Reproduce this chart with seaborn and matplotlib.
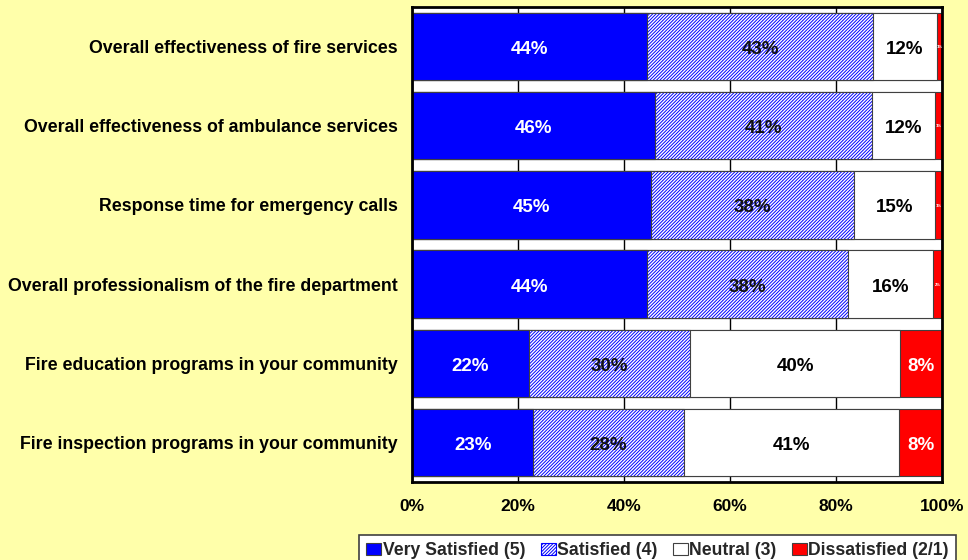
import matplotlib
matplotlib.use("Agg")
import matplotlib.pyplot as plt
from matplotlib.patches import Patch
import numpy as np
import pandas as pd
import seaborn as sns

# Survey items (top to bottom) and share of responses per rating
items = [
    "Overall effectiveness of fire services",
    "Overall effectiveness of ambulance services",
    "Response time for emergency calls",
    "Overall professionalism of the fire department",
    "Fire education programs in your community",
    "Fire inspection programs in your community",
]
very_satisfied = [44.4, 45.8, 45.1, 44.3, 22.1, 22.9]
satisfied = [42.6, 41.0, 38.3, 38.0, 30.4, 28.4]
neutral = [12.0, 11.9, 15.2, 16.0, 39.6, 40.6]
dissatisfied = [1.0, 1.3, 1.4, 1.7, 7.9, 8.1]

series_names = ["Very Satisfied (5)", "Satisfied (4)", "Neutral (3)", "Dissatisfied (2/1)"]
x_ticks = [0, 20, 40, 60, 80, 100]
x_tick_labels = ["0%", "20%", "40%", "60%", "80%", "100%"]

BG = "#FFFFAA"
BLUE = "#0000FF"
RED = "#FF0000"
EDGE = "#404040"
HATCH = "//////////"

sns.set_theme(style="white")
plt.rcParams["font.family"] = ["Liberation Sans", "DejaVu Sans"]
plt.rcParams["font.weight"] = "bold"
plt.rcParams["hatch.linewidth"] = 0.7

df = pd.DataFrame({
    "item": items,
    "very": very_satisfied,
    "sat": satisfied,
    "neu": neutral,
    "dis": dissatisfied,
})
df["c1"] = df["very"]
df["c2"] = df["c1"] + df["sat"]
df["c3"] = df["c2"] + df["neu"]
df["c4"] = df["c3"] + df["dis"]

fig = plt.figure(figsize=(9.68, 5.6), dpi=100, facecolor=BG)
ax = fig.add_axes([412 / 968, 78 / 560, 530 / 968, 475 / 560])
ax.set_facecolor("white")

bar_w = 0.85
common = dict(data=df, y="item", orient="h", width=bar_w, ax=ax,
              order=items, saturation=1)

# Stack by overdrawing cumulative totals from the outermost segment inward
sns.barplot(x="c4", color=RED, edgecolor=EDGE, linewidth=0.8, **common)
sns.barplot(x="c3", color="white", edgecolor=EDGE, linewidth=0.8, **common)
sns.barplot(x="c2", color="white", edgecolor=BLUE, linewidth=0.0, hatch=HATCH, **common)
sns.barplot(x="c2", fill=False, edgecolor=EDGE, linewidth=0.8, **common)
sns.barplot(x="c1", color=BLUE, edgecolor=EDGE, linewidth=0.8, **common)

# Segment value labels
seg_specs = [
    ("very", "c1", "white"),
    ("sat", "c2", "#111111"),
    ("neu", "c3", "black"),
    ("dis", "c4", "white"),
]
for i, row in df.iterrows():
    for val_col, cum_col, color in seg_specs:
        v = row[val_col]
        center = row[cum_col] - v / 2
        big = v >= 5
        ax.annotate(f"{v:.0f}%", xy=(center, i),
                    xytext=(0, -2.2 if big else -0.5), textcoords="offset points",
                    ha="center", va="center", color=color,
                    fontsize=13.5 if big else 3, fontweight="bold", zorder=5)

ax.set_xlim(0, 100)
ax.set_ylim(len(items) - 0.5, -0.5)
ax.set_xticks(x_ticks)
ax.set_xticklabels(x_tick_labels)
ax.set_xlabel("")
ax.set_ylabel("")
ax.tick_params(axis="x", length=0, pad=12.5, labelsize=12.5, colors="black")
ax.tick_params(axis="y", length=0, pad=10.5, labelsize=12.8, colors="black")
for lab in ax.get_xticklabels() + ax.get_yticklabels():
    lab.set_fontweight("bold")

ax.xaxis.grid(True, color="black", linewidth=1.0)
ax.set_axisbelow(True)
for sp in ax.spines.values():
    sp.set_visible(True)
    sp.set_color("black")
    sp.set_linewidth(2.0)

handles = [
    Patch(facecolor=BLUE, edgecolor=EDGE, linewidth=0.8),
    Patch(facecolor="white", edgecolor=BLUE, hatch=HATCH, linewidth=0.8),
    Patch(facecolor="white", edgecolor=EDGE, linewidth=0.8),
    Patch(facecolor=RED, edgecolor=EDGE, linewidth=0.8),
]
leg = fig.legend(handles, series_names, loc="lower right",
                 bbox_to_anchor=(956 / 968, -6 / 560), ncol=4,
                 frameon=True, fancybox=False,
                 handlelength=0.85, handleheight=0.65, handletextpad=0.1,
                 columnspacing=0.85, borderpad=0.4, borderaxespad=0.0,
                 prop={"weight": "bold", "size": 12.7})
leg.get_frame().set_edgecolor("#404040")
leg.get_frame().set_linewidth(1.2)
leg.get_frame().set_facecolor("white")
leg.get_frame().set_alpha(1.0)

fig.savefig("out.png", dpi=100, facecolor=BG)
